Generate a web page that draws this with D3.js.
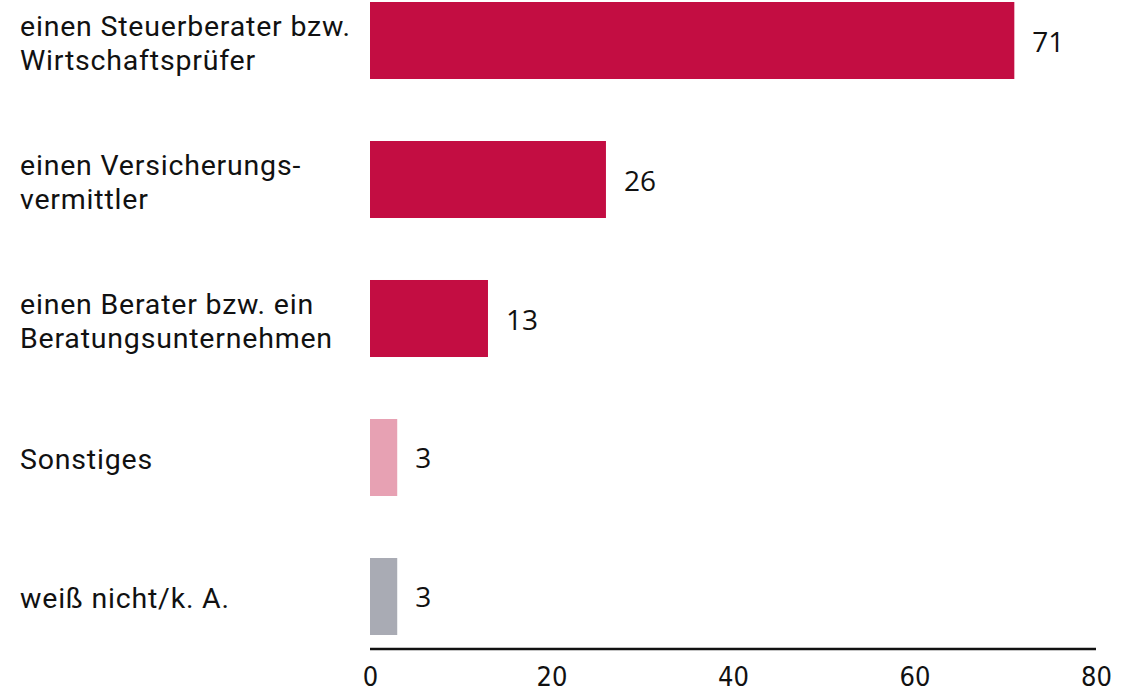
<!DOCTYPE html>
<html><head><meta charset="utf-8">
<script src="https://cdn.jsdelivr.net/npm/d3@7"></script>
<style>
html,body{margin:0;padding:0;background:#fff;}
svg{display:block;}
</style>
</head><body>
<svg id="chart" width="1124" height="691"></svg>
<script>
const categories = [
  ["einen Steuerberater bzw.", "Wirtschaftsprüfer"],
  ["einen Versicherungs-", "vermittler"],
  ["einen Berater bzw. ein", "Beratungsunternehmen"],
  ["Sonstiges"],
  ["weiß nicht/k. A."]
];
const values = [71, 26, 13, 3, 3];
const colors = ["#C30D42", "#C30D42", "#C30D42", "#E7A1B3", "#A9ABB4"];
const tickValues = [0, 20, 40, 60, 80];

const svg = d3.select("#chart");
const x = d3.scaleLinear().domain([0, 80]).range([370, 1096]);
const y = d3.scaleBand().domain(d3.range(values.length)).range([2, 635]).paddingInner(0.446).paddingOuter(0);

const labelFont = "Roboto, 'Open Sans', sans-serif";

// bars
svg.selectAll("rect.bar").data(values).join("rect")
  .attr("class", "bar")
  .attr("x", x(0))
  .attr("y", (d, i) => y(i))
  .attr("width", d => x(d) - x(0))
  .attr("height", y.bandwidth())
  .attr("fill", (d, i) => colors[i]);

// value labels
svg.selectAll("text.val").data(values).join("text")
  .attr("class", "val")
  .attr("x", d => x(d) + 18)
  .attr("y", (d, i) => y(i) + y.bandwidth() / 2 + 11)
  .attr("font-family", "'Open Sans', sans-serif")
  .attr("font-size", 28)
  .attr("fill", "#111")
  .text(d => d);

// category labels (one text per line)
const lineH = 34;
categories.forEach((lines, i) => {
  const c = y(i) + y.bandwidth() / 2;
  lines.forEach((ln, j) => {
    svg.append("text")
      .attr("x", 20)
      .attr("y", c + 12 + (j - (lines.length - 1) / 2) * lineH)
      .attr("font-family", labelFont)
      .attr("font-size", 28.5)
      .attr("letter-spacing", 0.8)
      .attr("fill", "#111")
      .text(ln);
  });
});

// x axis
const axis = d3.axisBottom(x).tickValues(tickValues).tickSize(0).tickPadding(0);
const g = svg.append("g").attr("transform", "translate(0,649)").call(axis);
g.select(".domain").attr("stroke", "#111").attr("stroke-width", 2.5).attr("d", `M${x(0)},0H${x(80)}`);
g.selectAll(".tick text")
  .attr("y", 37)
  .attr("dy", 0)
  .attr("dx", 0)
  .attr("font-family", "'DejaVu Sans Condensed', 'DejaVu Sans', sans-serif")
  .attr("font-stretch", "condensed")
  .attr("font-size", 27)
  .attr("fill", "#111");
</script>
</body></html>
